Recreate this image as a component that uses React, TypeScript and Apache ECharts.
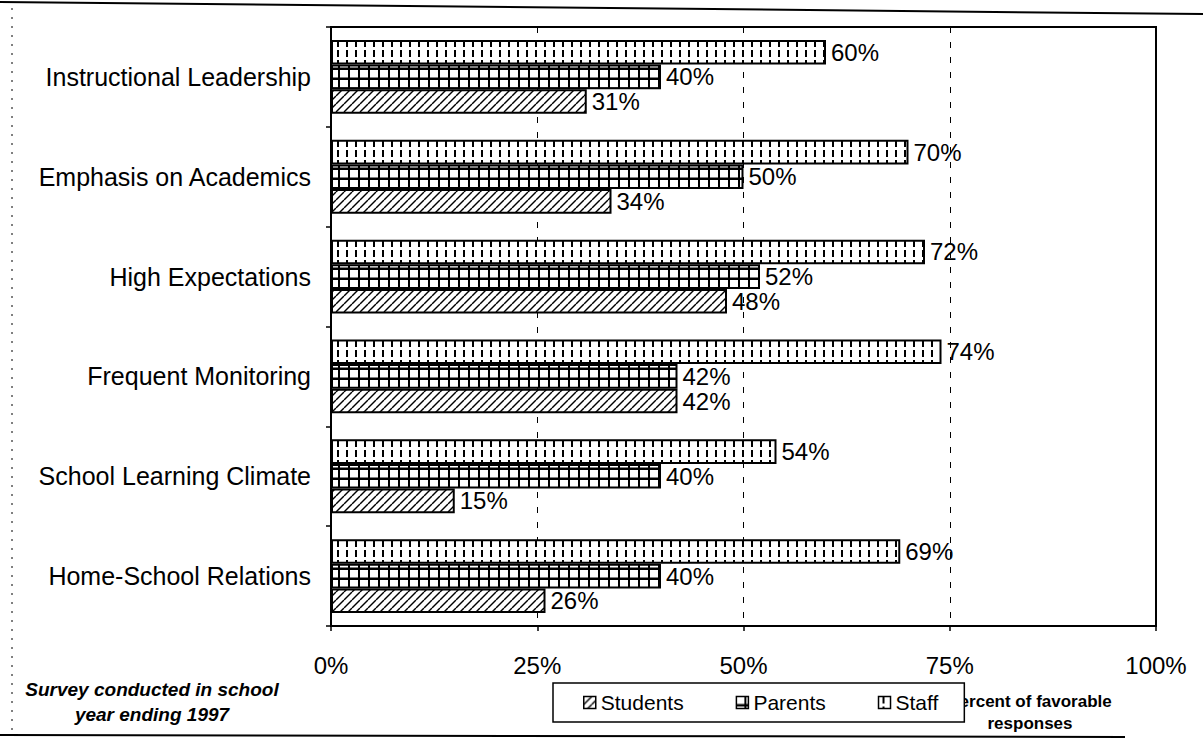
import React, { useEffect, useRef } from 'react';
import * as echarts from 'echarts';

const categories = [
  'Instructional Leadership',
  'Emphasis on Academics',
  'High Expectations',
  'Frequent Monitoring',
  'School Learning Climate',
  'Home-School Relations',
];
const staffValues = [60, 70, 72, 74, 54, 69];
const parentValues = [40, 50, 52, 42, 40, 40];
const studentValues = [31, 34, 48, 42, 15, 26];
const legendNames = ['Students', 'Parents', 'Staff'];
const axisMin = 0;
const axisMax = 100;
const axisStep = 25;
const axisTitle = 'Percent of favorable\nresponses';
const footnote = 'Survey conducted in school\nyear ending 1997';

const FONT = '"Liberation Sans", Arial, Helvetica, sans-serif';

function makePattern(kind: string) {
  const c = document.createElement('canvas');
  let w = 8;
  let h = 8;
  if (kind === 'staff') { w = 9; h = 10; }
  else if (kind === 'parents') { w = 10; h = 10; }
  c.width = w;
  c.height = h;
  const ctx = c.getContext('2d')!;
  ctx.fillStyle = '#fff';
  ctx.fillRect(0, 0, w, h);
  ctx.fillStyle = '#000';
  ctx.strokeStyle = '#000';
  if (kind === 'staff') {
    ctx.fillRect(4, 0, 2, 7);
  } else if (kind === 'parents') {
    ctx.fillRect(0, 0, w, h);
    ctx.fillStyle = '#fff';
    ctx.fillRect(0, 0, 8, 7.5);
  } else {
    ctx.lineWidth = 1.4;
    for (const k of [-8, 0, 8]) {
      ctx.beginPath();
      ctx.moveTo(k, h);
      ctx.lineTo(k + w, 0);
      ctx.stroke();
    }
  }
  return { image: c.toDataURL(), repeat: 'repeat', imageWidth: w, imageHeight: h } as any;
}

export default function App() {
  const ref = useRef<HTMLDivElement>(null);
  useEffect(() => {
    if (!ref.current) return;
    const chart = echarts.init(ref.current, undefined, { renderer: 'svg' });
    const barCommon = (name: string, data: number[], kind: string) => ({
      name,
      type: 'bar',
      data,
      barGap: '0%',
      barCategoryGap: '26%',
      itemStyle: { color: makePattern(kind), borderColor: '#000', borderWidth: 2 },
      label: {
        show: true,
        position: 'right',
        distance: 5,
        formatter: '{c}%',
        fontSize: 24,
        fontFamily: FONT,
        color: '#000',
      },
    });
    chart.setOption({
      animation: false,
      backgroundColor: '#fff',
      grid: {
        left: 331,
        right: 47,
        top: 27,
        bottom: 112,
        show: true,
        borderColor: '#000',
        borderWidth: 2,
        containLabel: false,
      },
      xAxis: {
        type: 'value',
        min: axisMin,
        max: axisMax,
        interval: axisStep,
        axisLine: { show: true, lineStyle: { color: '#000', width: 2 } },
        axisTick: { show: true, length: 5, lineStyle: { color: '#000', width: 1.5 } },
        axisLabel: {
          formatter: '{value}%',
          fontSize: 24,
          fontFamily: FONT,
          color: '#000',
          margin: 27,
        },
        splitLine: { show: true, lineStyle: { color: '#000', width: 1, type: [6, 9] } },
      },
      yAxis: {
        type: 'category',
        data: categories,
        inverse: true,
        axisLine: { show: true, lineStyle: { color: '#000', width: 2 } },
        axisTick: { show: true, length: 5, inside: false, lineStyle: { color: '#000', width: 1.5 } },
        axisLabel: { fontSize: 25, fontFamily: FONT, color: '#000', margin: 20 },
        splitLine: { show: false },
      },
      legend: {
        data: legendNames,
        left: 553,
        top: 683,
        orient: 'horizontal',
        icon: 'rect',
        itemWidth: 12,
        itemHeight: 12,
        itemGap: 52,
        padding: [9, 26, 9, 30],
        backgroundColor: '#fff',
        borderColor: '#000',
        borderWidth: 1.5,
        borderRadius: 0,
        textStyle: { fontSize: 21, fontFamily: FONT, color: '#000' },
        itemStyle: { borderWidth: 1.5 },
        z: 10,
      },
      graphic: [
        { type: 'line', z: 0, shape: { x1: 0, y1: 2, x2: 1203, y2: 14 }, style: { stroke: '#000', lineWidth: 2 } },
        { type: 'line', z: 0, shape: { x1: 12, y1: 8, x2: 12, y2: 734 }, style: { stroke: '#000', lineWidth: 1, lineDash: [2, 7] } },
        { type: 'line', z: 0, shape: { x1: 0, y1: 735, x2: 1125, y2: 737 }, style: { stroke: '#000', lineWidth: 2 } },
        {
          type: 'text',
          z: 1,
          x: 1030,
          y: 690,
          style: {
            text: axisTitle,
            textAlign: 'center',
            fontSize: 17,
            fontWeight: 'bold',
            fontFamily: FONT,
            lineHeight: 22,
            fill: '#000',
          },
        },
        {
          type: 'text',
          z: 1,
          x: 152,
          y: 677,
          style: {
            text: footnote,
            textAlign: 'center',
            fontSize: 19,
            fontWeight: 'bold',
            fontStyle: 'italic',
            fontFamily: FONT,
            lineHeight: 25,
            fill: '#000',
          },
        },
      ],
      series: [
        barCommon('Staff', staffValues, 'staff'),
        barCommon('Parents', parentValues, 'parents'),
        barCommon('Students', studentValues, 'students'),
      ],
    });
    return () => chart.dispose();
  }, []);
  return (
    <div
      ref={ref}
      style={{ position: 'fixed', left: 0, top: 0, width: 1203, height: 738, background: '#fff' }}
    />
  );
}
